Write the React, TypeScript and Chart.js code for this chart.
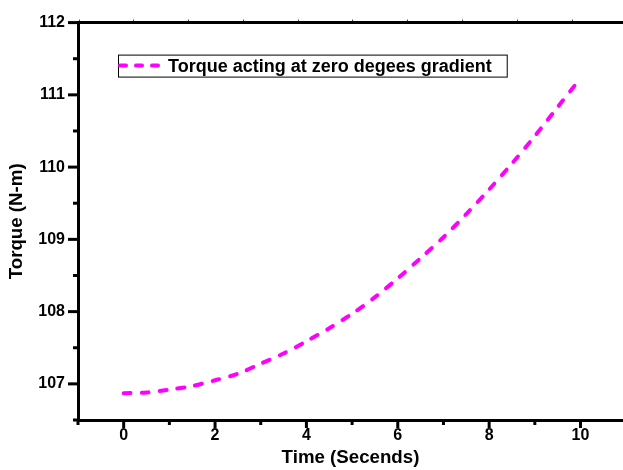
import React, { useEffect, useRef } from "react";
import { Chart, registerables } from "chart.js";

Chart.register(...registerables);

const timeValues = [0, 0.5, 1, 1.5, 2, 2.5, 3, 3.5, 4, 4.5, 5, 5.5, 6, 6.5, 7, 7.5, 8, 8.5, 9, 9.5, 9.9];
const torqueValues = [106.87, 106.88, 106.92, 106.97, 107.05, 107.14, 107.28, 107.42, 107.59, 107.77, 107.97, 108.2, 108.46, 108.74, 109.03, 109.35, 109.69, 110.05, 110.43, 110.83, 111.15];

const seriesLabel = "Torque acting at zero degees gradient";
const xTitle = "Time (Secends)";
const yTitle = "Torque (N-m)";

const xMajorTicks = [0, 2, 4, 6, 8, 10];
const xMinorTicks = [-1, 1, 3, 5, 7, 9];
const yMajorTicks = [107, 108, 109, 110, 111, 112];
const yMinorTicks = [106.5, 107.5, 108.5, 109.5, 110.5, 111.5];

const FONT = "'Liberation Sans', Arial, Helvetica, sans-serif";
const MAGENTA = "#ff00ff";

const tickPlugin = {
  id: "customTicks",
  afterDraw(chart: any) {
    const ctx = chart.ctx;
    const xs = chart.scales.x;
    const ys = chart.scales.y;
    const ca = chart.chartArea;
    ctx.save();
    ctx.strokeStyle = "#000";
    ctx.lineWidth = 3;
    ctx.lineCap = "butt";
    const drawX = (v: number, len: number) => {
      const px = xs.getPixelForValue(v);
      ctx.beginPath();
      ctx.moveTo(px, ca.bottom);
      ctx.lineTo(px, ca.bottom + len);
      ctx.stroke();
    };
    const drawY = (v: number, len: number) => {
      const py = ys.getPixelForValue(v);
      ctx.beginPath();
      ctx.moveTo(ca.left, py);
      ctx.lineTo(ca.left - len, py);
      ctx.stroke();
    };
    xMajorTicks.forEach((v) => drawX(v, 8));
    xMinorTicks.forEach((v) => drawX(v, 5));
    yMajorTicks.forEach((v) => drawY(v, 10));
    yMinorTicks.forEach((v) => drawY(v, 5));
    ctx.restore();
  },
};

const legendPlugin = {
  id: "boxLegend",
  afterDraw(chart: any) {
    const ctx = chart.ctx;
    const ca = chart.chartArea;
    const ds = chart.data.datasets[0];
    const left = ca.left + 40;
    const top = ca.top + 32;
    const h = 22;
    ctx.save();
    ctx.font = `bold 18px ${FONT}`;
    const tw = ctx.measureText(ds.label).width;
    const w = 50 + tw + 15;
    ctx.fillStyle = "#fff";
    ctx.fillRect(left, top, w, h);
    ctx.strokeStyle = "#000";
    ctx.lineWidth = 1;
    ctx.strokeRect(left + 0.5, top + 0.5, w, h);
    ctx.strokeStyle = ds.borderColor;
    ctx.lineWidth = 4;
    ctx.lineCap = "round";
    ctx.setLineDash([6, 10]);
    ctx.beginPath();
    ctx.moveTo(left + 2, top + 11);
    ctx.lineTo(left + 42, top + 11);
    ctx.stroke();
    ctx.setLineDash([]);
    ctx.fillStyle = "#000";
    ctx.textBaseline = "alphabetic";
    ctx.fillText(ds.label, left + 50, top + 17);
    ctx.restore();
  },
};

export default function App() {
  const ref = useRef<HTMLCanvasElement | null>(null);
  useEffect(() => {
    if (!ref.current) return;
    const chart = new Chart(ref.current, {
      type: "line",
      data: {
        datasets: [
          {
            label: seriesLabel,
            data: timeValues.map((t, i) => ({ x: t, y: torqueValues[i] })),
            borderColor: MAGENTA,
            borderWidth: 4,
            borderDash: [7, 11],
            borderCapStyle: "round",
            pointRadius: 0,
            tension: 0.3,
            fill: false,
          },
        ],
      },
      options: {
        animation: false,
        responsive: false,
        maintainAspectRatio: false,
        layout: { padding: 0, autoPadding: false },
        plugins: {
          legend: { display: false },
          tooltip: { enabled: false },
        },
        scales: {
          x: {
            type: "linear",
            position: "bottom",
            min: -1,
            max: 10.93,
            afterFit(scale: any) {
              scale.height = 50;
            },
            ticks: {
              stepSize: 1,
              maxTicksLimit: 100,
              includeBounds: false,
              autoSkip: false,
              maxRotation: 0,
              padding: 6,
              color: "#000",
              font: { family: FONT, size: 16, weight: "bold" },
              callback: (v: any) => (xMajorTicks.includes(Math.round(Number(v) * 100) / 100) ? String(v) : ""),
            },
            grid: { display: false, drawTicks: false },
            border: { display: true, width: 3, color: "#000" },
            title: {
              display: true,
              text: xTitle,
              color: "#000",
              font: { family: FONT, size: 18.7, weight: "bold" },
              padding: { top: 0, bottom: 1 },
            },
          },
          x2: {
            type: "linear",
            position: "top",
            min: -1.02,
            max: 8.93,
            afterFit(scale: any) {
              scale.height = 20;
            },
            ticks: { display: false, stepSize: 1, includeBounds: false, maxTicksLimit: 100 },
            grid: {
              display: true,
              drawOnChartArea: false,
              drawTicks: true,
              tickLength: 3,
              lineWidth: 1,
              color: "#444",
            },
            border: { display: true, width: 3, color: "#000" },
          },
          y: {
            type: "linear",
            position: "left",
            min: 106.5,
            max: 112,
            afterFit(scale: any) {
              scale.width = 78;
            },
            ticks: {
              stepSize: 0.5,
              maxTicksLimit: 100,
              autoSkip: false,
              padding: 13,
              color: "#000",
              font: { family: FONT, size: 16, weight: "bold" },
              callback: (v: any) => (yMajorTicks.includes(Math.round(Number(v) * 100) / 100) ? String(v) : ""),
            },
            grid: { display: false, drawTicks: false },
            border: { display: true, width: 3, color: "#000" },
            title: {
              display: true,
              text: yTitle,
              color: "#000",
              font: { family: FONT, size: 18.7, weight: "bold" },
              padding: { top: 6, bottom: 0 },
            },
          },
        },
      },
      plugins: [tickPlugin, legendPlugin],
    } as any);
    return () => chart.destroy();
  }, []);
  return (
    <div style={{ position: "absolute", left: 0, top: 0, width: 623, height: 470, background: "#fff" }}>
      <canvas ref={ref} width={623} height={470} style={{ display: "block", width: 623, height: 470 }} />
    </div>
  );
}
